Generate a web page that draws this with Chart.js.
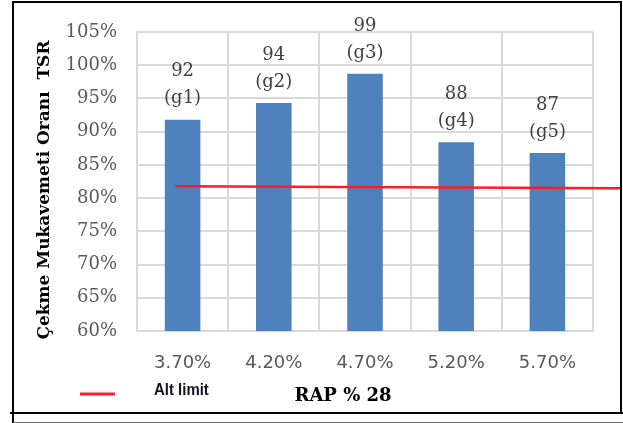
<!DOCTYPE html>
<html lang="tr">
<head>
<meta charset="utf-8">
<title>TSR - RAP % 28</title>
<script src="https://cdn.jsdelivr.net/npm/chart.js@4.4.1/dist/chart.umd.min.js"></script>
<style>
    html, body { margin: 0; padding: 0; background: #ffffff; overflow: hidden; }
    #kutu { position: relative; width: 623px; height: 423px; }
</style>
</head>
<body>
<div id="kutu"><canvas id="grafik"></canvas></div>
<script>
// Veriler
const kategoriler = ['3.70%', '4.20%', '4.70%', '5.20%', '5.70%'];
const tsrDegerleri = [91.8, 94.3, 98.7, 88.4, 86.8];
const etiketDegerleri = ['92', '94', '99', '88', '87'];
const grupAdlari = ['(g1)', '(g2)', '(g3)', '(g4)', '(g5)'];

// Alt limit cizgisi (x: kategori sirasi, y: yuzde)
const altLimitX = [-0.08, 4.8];
const altLimitY = [81.8, 81.5];

// Eksen
const yMin = 60;
const yMax = 105;
const yAdim = 5;
const yBaslik = 'Çekme Mukavemeti Oranı  TSR';
const xBaslik = 'RAP % 28';

const griRenk = '#d9d9d9';
const seriRengi = '#4f81bd';
const kirmizi = '#ff1c24';

// Cubuklarin ustundeki etiketler
const etiketEklentisi = {
    id: 'etiketler',
    afterDatasetsDraw(chart) {
        const ctx = chart.ctx;
        const meta = chart.getDatasetMeta(0);
        ctx.save();
        ctx.font = '18px "DejaVu Serif"';
        ctx.fillStyle = '#404040';
        ctx.textAlign = 'center';
        ctx.textBaseline = 'middle';
        meta.data.forEach((bar, i) => {
            ctx.fillText(etiketDegerleri[i], bar.x, bar.y - 48);
            ctx.fillText(grupAdlari[i], bar.x, bar.y - 21);
        });
        ctx.restore();
    }
};

// Eksen basliklari, lejant ve cerceve
const cerceveEklentisi = {
    id: 'cerceve',
    afterDraw(chart) {
        const ctx = chart.ctx;
        ctx.save();

        // y ekseni basligi
        ctx.save();
        ctx.translate(45, 190);
        ctx.rotate(-Math.PI / 2);
        ctx.fillStyle = '#000000';
        ctx.font = 'bold 17px "DejaVu Serif"';
        ctx.textAlign = 'center';
        ctx.textBaseline = 'middle';
        ctx.fillText(yBaslik, 0, 0);
        ctx.restore();

        // lejant
        ctx.strokeStyle = kirmizi;
        ctx.lineWidth = 3;
        ctx.beginPath();
        ctx.moveTo(80, 394);
        ctx.lineTo(115, 394);
        ctx.stroke();
        ctx.save();
        ctx.translate(154, 390);
        ctx.scale(0.88, 1);
        ctx.fillStyle = '#111122';
        ctx.font = 'bold 17px "Liberation Sans"';
        ctx.textAlign = 'left';
        ctx.textBaseline = 'middle';
        ctx.fillText(chart.data.datasets[1].label, 0, 0);
        ctx.restore();

        // x ekseni basligi
        ctx.fillStyle = '#000000';
        ctx.font = 'bold 18px "DejaVu Serif"';
        ctx.textAlign = 'center';
        ctx.textBaseline = 'middle';
        ctx.fillText(xBaslik, 343, 396);

        // cerceve
        ctx.strokeStyle = '#000000';
        ctx.lineWidth = 2;
        ctx.beginPath();
        ctx.moveTo(13, 423); ctx.lineTo(13, 2); ctx.lineTo(621, 2); ctx.lineTo(621, 413);
        ctx.moveTo(10, 413); ctx.lineTo(623, 413);
        ctx.stroke();
        ctx.strokeStyle = '#666666';
        ctx.lineWidth = 1;
        ctx.beginPath();
        ctx.moveTo(13, 422.5); ctx.lineTo(623, 422.5);
        ctx.stroke();
        ctx.restore();
    }
};

const grafik = new Chart(document.getElementById('grafik'), {
    type: 'bar',
    data: {
        labels: kategoriler,
        datasets: [{
            label: 'TSR',
            data: tsrDegerleri,
            backgroundColor: seriRengi,
            barPercentage: 0.39,
            categoryPercentage: 1.0,
            grouped: false,
            order: 2
        }, {
            type: 'line',
            label: 'Alt limit',
            xAxisID: 'x2',
            data: altLimitX.map((x, i) => ({ x: x, y: altLimitY[i] })),
            borderColor: kirmizi,
            borderWidth: 2.5,
            pointRadius: 0,
            fill: false,
            clip: false,
            order: 1
        }]
    },
    options: {
        responsive: true,
        maintainAspectRatio: false,
        animation: false,
        layout: { padding: { top: 32, right: 30, bottom: 0, left: 0 } },
        plugins: {
            legend: { display: false },
            tooltip: { enabled: false }
        },
        scales: {
            x: {
                grid: { color: griRenk, lineWidth: 2, drawTicks: false, offset: true },
                border: { color: griRenk, width: 2 },
                ticks: {
                    color: '#595959',
                    font: { family: '"DejaVu Sans"', size: 18 },
                    padding: 22
                },
                afterFit(scale) { scale.height = 92; }
            },
            x2: {
                type: 'linear',
                display: false,
                offset: false,
                min: -0.5,
                max: kategoriler.length - 0.5
            },
            y: {
                min: yMin,
                max: yMax,
                grid: { color: griRenk, lineWidth: 2, drawTicks: false },
                border: { color: griRenk, width: 2 },
                ticks: {
                    stepSize: yAdim,
                    color: '#595959',
                    font: { family: '"DejaVu Serif"', size: 18 },
                    padding: 20,
                    callback: (v) => v + '%'
                },
                afterFit(scale) { scale.width = 137; }
            }
        }
    },
    plugins: [etiketEklentisi, cerceveEklentisi]
});
</script>
</body>
</html>
